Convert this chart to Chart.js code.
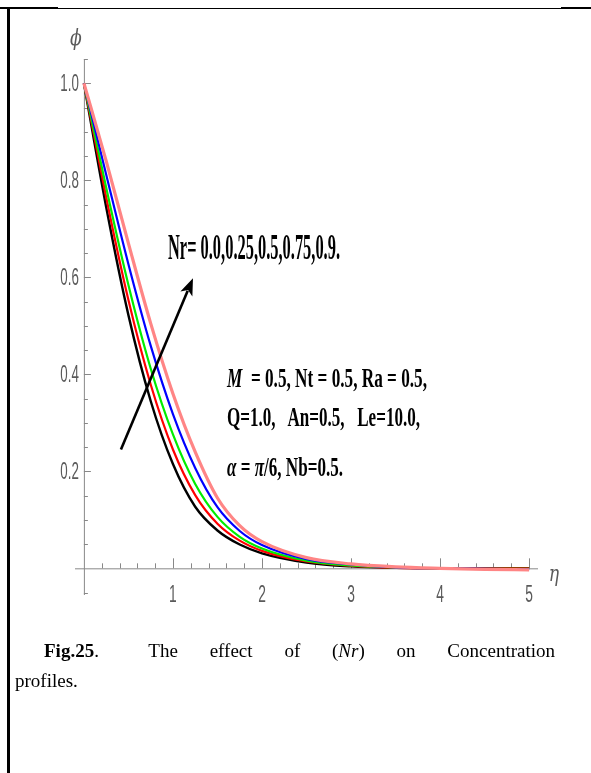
<!DOCTYPE html>
<html>
<head>
<meta charset="utf-8">
<script src="https://cdn.jsdelivr.net/npm/chart.js@4.4.1/dist/chart.umd.min.js"></script>
<style>
  html, body { margin: 0; padding: 0; background: #fff; }
  body { width: 591px; height: 773px; position: relative; overflow: hidden; }
  #chart { position: absolute; left: 0; top: 0; }
  .rule { position: absolute; background: #000; }
  .note { position: absolute; font-family: "Liberation Serif", "Times New Roman", serif; font-weight: bold;
          white-space: pre; line-height: 1; transform-origin: 0 0; color: #000; }
  .cap { position: absolute; font-family: "Liberation Serif", "Times New Roman", serif; font-size: 19px;
         line-height: 19px; color: #000; white-space: nowrap; }
</style>
</head>
<body>
<canvas id="chart" width="591" height="773"></canvas>

<!-- page frame -->
<div class="rule" style="left:0;top:7px;width:58px;height:2px"></div>
<div class="rule" style="left:58px;top:8px;width:503px;height:1px"></div>
<div class="rule" style="left:561px;top:7px;width:30px;height:2px"></div>
<div class="rule" style="left:7px;top:8px;width:3px;height:765px"></div>

<div class="note" id="nrText" data-w="172" style="left:168px;top:230px;font-size:35px">Nr= 0.0,0.25,0.5,0.75,0.9.</div>
<div class="note" id="p1" data-w="200" style="left:227px;top:364px;font-size:28px"><i>M</i>  = 0.5, Nt = 0.5, Ra = 0.5,</div>
<div class="note" id="p2" data-w="193" style="left:227px;top:403px;font-size:28px">Q=1.0,   An=0.5,   Le=10.0,</div>
<div class="note" id="p3" data-w="116" style="left:227px;top:453px;font-size:28px"><i>α</i> = <i>π</i>/6, Nb=0.5.</div>

<div class="cap" style="left:44px;top:641px;width:511px;text-align:justify;text-align-last:justify"><b>Fig.25</b>.<span style="display:inline-block;width:18px"></span> The effect of (<i>Nr</i>) on Concentration</div>
<div class="cap" style="left:15px;top:671px">profiles.</div>

<script>
// eta grid (x axis)
const eta = [0, 0.25, 0.5, 0.75, 1.0, 1.25, 1.5, 1.75, 2.0, 2.5, 3.0, 3.5, 4.0, 4.5, 5.0];

// concentration profiles phi(eta), one array per Nr value
const phiNr000 = [1.0, 0.745, 0.522, 0.345, 0.215, 0.127, 0.078, 0.049, 0.031, 0.012, 0.004, 0.001, 0.0, 0.0, 0.0];
const phiNr025 = [1.0, 0.765, 0.553, 0.379, 0.245, 0.151, 0.092, 0.057, 0.036, 0.014, 0.005, 0.001, 0.0, 0.0, 0.0];
const phiNr050 = [1.0, 0.785, 0.584, 0.412, 0.276, 0.174, 0.106, 0.065, 0.041, 0.016, 0.006, 0.002, 0.0, -0.001, -0.001];
const phiNr075 = [1.0, 0.812, 0.627, 0.459, 0.318, 0.207, 0.126, 0.077, 0.048, 0.019, 0.008, 0.002, 0.0, -0.001, -0.002];
const phiNr090 = [1.0, 0.840, 0.670, 0.505, 0.360, 0.240, 0.145, 0.088, 0.055, 0.022, 0.009, 0.003, 0.0, -0.002, -0.003];

// tick labels
const xTickLabels = [1, 2, 3, 4, 5];
const yTickLabels = [0.2, 0.4, 0.6, 0.8, 1.0];

function pts(ys) {
  return eta.map((x, i) => ({ x: x, y: ys[i] }));
}

// squeeze the bold notes horizontally like the original figure
document.querySelectorAll('.note').forEach(el => {
  const w = el.getBoundingClientRect().width;
  el.style.transform = 'scaleX(' + (parseFloat(el.dataset.w) / w) + ')';
});

function squeezedText(ctx, txt, x, y, sx, align) {
  ctx.save();
  ctx.translate(x, y);
  ctx.scale(sx, 1);
  ctx.textAlign = align;
  ctx.fillText(txt, 0, 0);
  ctx.restore();
}

// Mathematica-like axes: crossing at the origin, ticks pointing inward
const axesPlugin = {
  id: 'axes',
  beforeDatasetsDraw(chart) {
    const ctx = chart.ctx;
    const xs = chart.scales.x, ys = chart.scales.y;
    const x0 = xs.getPixelForValue(0), y0 = ys.getPixelForValue(0);
    ctx.save();
    ctx.strokeStyle = '#888';
    ctx.lineWidth = 1;
    ctx.beginPath();
    ctx.moveTo(xs.left, y0 + 0.5); ctx.lineTo(xs.right, y0 + 0.5);
    ctx.moveTo(x0 + 0.5, ys.top); ctx.lineTo(x0 + 0.5, ys.bottom);
    // x ticks every 0.2
    for (let k = 1; k <= 25; k++) {
      const px = Math.round(xs.getPixelForValue(k * 0.2)) + 0.5;
      const len = (k % 5 === 0) ? 10 : 5;
      ctx.moveTo(px, y0); ctx.lineTo(px, y0 - len);
    }
    // y ticks every 0.05
    for (let k = -1; k <= 21; k++) {
      if (k === 0) continue;
      const py = Math.round(ys.getPixelForValue(k * 0.05)) + 0.5;
      const len = (k % 4 === 0) ? 7 : 4;
      ctx.moveTo(x0, py); ctx.lineTo(x0 + len, py);
    }
    ctx.stroke();

    ctx.fillStyle = '#5a5a5a';
    ctx.font = '23px "Liberation Sans", Arial, sans-serif';
    ctx.textBaseline = 'middle';
    xTickLabels.forEach(v => squeezedText(ctx, String(v), xs.getPixelForValue(v), y0 + 27, 0.6, 'center'));
    yTickLabels.forEach(v => squeezedText(ctx, v.toFixed(1), x0 - 5, ys.getPixelForValue(v) + 1, 0.58, 'right'));

    ctx.font = 'italic 23px "DejaVu Serif", "Liberation Serif", serif';
    squeezedText(ctx, 'ϕ', x0 - 8, 39, 0.75, 'center');
    squeezedText(ctx, 'η', xs.right + 16, y0 + 7, 0.75, 'center');
    ctx.restore();
  },
  afterDatasetsDraw(chart) {
    // arrow pointing in the direction of increasing Nr
    const ctx = chart.ctx;
    const xs = chart.scales.x, ys = chart.scales.y;
    const x1 = xs.getPixelForValue(0.416), y1 = ys.getPixelForValue(0.245);
    const x2 = xs.getPixelForValue(1.225), y2 = ys.getPixelForValue(0.598);
    const a = Math.atan2(y2 - y1, x2 - x1);
    const hl = 17, hw = 6.5;
    ctx.save();
    ctx.strokeStyle = '#000';
    ctx.fillStyle = '#000';
    ctx.lineWidth = 2.6;
    ctx.beginPath();
    ctx.moveTo(x1, y1);
    ctx.lineTo(x2 - hl * 0.8 * Math.cos(a), y2 - hl * 0.8 * Math.sin(a));
    ctx.stroke();
    ctx.beginPath();
    ctx.moveTo(x2, y2);
    ctx.lineTo(x2 - hl * Math.cos(a) + hw * Math.sin(a), y2 - hl * Math.sin(a) - hw * Math.cos(a));
    ctx.lineTo(x2 - hl * 0.75 * Math.cos(a), y2 - hl * 0.75 * Math.sin(a));
    ctx.lineTo(x2 - hl * Math.cos(a) - hw * Math.sin(a), y2 - hl * Math.sin(a) + hw * Math.cos(a));
    ctx.closePath();
    ctx.fill();
    ctx.restore();
  }
};

// first dataset is drawn on top, so the pink curve goes first
new Chart(document.getElementById('chart'), {
  type: 'line',
  data: {
    datasets: [
      { label: 'Nr = 0.9',  data: pts(phiNr090), borderColor: '#ff8585', borderWidth: 3.2 },
      { label: 'Nr = 0.75', data: pts(phiNr075), borderColor: '#0000ff', borderWidth: 2.2 },
      { label: 'Nr = 0.5',  data: pts(phiNr050), borderColor: '#00ee00', borderWidth: 2.2 },
      { label: 'Nr = 0.25', data: pts(phiNr025), borderColor: '#ff0000', borderWidth: 2.2 },
      { label: 'Nr = 0.0',  data: pts(phiNr000), borderColor: '#000000', borderWidth: 2.4 }
    ]
  },
  options: {
    responsive: false,
    animation: false,
    devicePixelRatio: 1,
    layout: { padding: { left: 75, right: 53, top: 59, bottom: 178 } },
    elements: { point: { radius: 0 }, line: { cubicInterpolationMode: 'monotone', fill: false } },
    plugins: { legend: { display: false }, tooltip: { enabled: false } },
    scales: {
      x: { type: 'linear', min: -0.1, max: 5.1, display: false },
      y: { type: 'linear', min: -0.055, max: 1.05, display: false }
    }
  },
  plugins: [axesPlugin]
});
</script>
</body>
</html>
